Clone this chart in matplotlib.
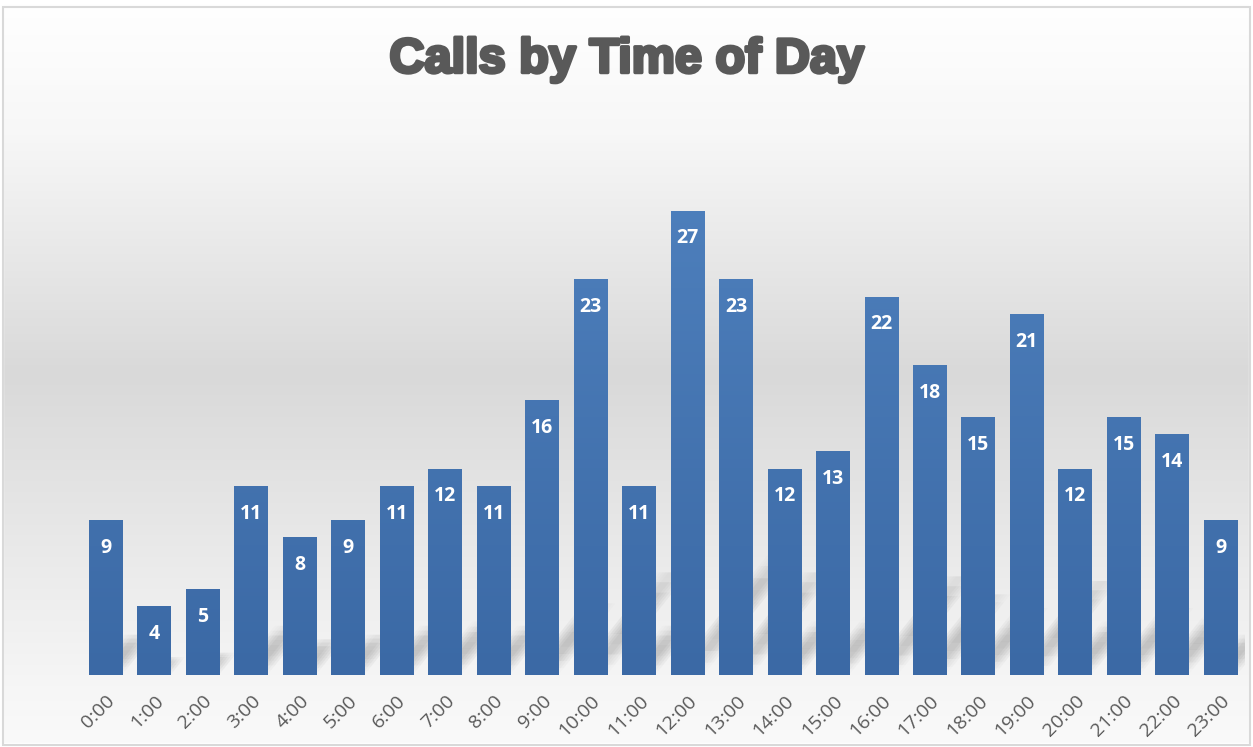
import numpy as np
import matplotlib
matplotlib.use("Agg")
import matplotlib.pyplot as plt
import matplotlib.patheffects as pe
from matplotlib.colors import LinearSegmentedColormap
from matplotlib.patches import Rectangle, Polygon

hours = ["%d:00" % h for h in range(24)]
calls = [9, 4, 5, 11, 8, 9, 11, 12, 11, 16, 23, 11, 27, 23, 12, 13, 22, 18, 15, 21, 12, 15, 14, 9]

fig = plt.figure(figsize=(12.53, 7.47), dpi=100)

# background gradient (whole chart)
bg = fig.add_axes([0, 0, 1, 1], zorder=0)
bg.set_axis_off()
bg_cmap = LinearSegmentedColormap.from_list(
    "bg", [(0.0, "#fafafa"), (0.08, "#f6f6f6"), (0.5, "#d9d9d9"), (0.82, "#f7f7f7"), (1.0, "#ffffff")])
grad = np.linspace(0, 1, 256).reshape(-1, 1)
bg.imshow(grad, aspect="auto", cmap=bg_cmap, extent=[0, 1, 0, 1], origin="lower")
bg.set_xlim(0, 1)
bg.set_ylim(0, 1)
# outer frame
bg.add_patch(Rectangle((0, 0), 1, 1, facecolor="none", edgecolor="white", lw=6))
bg.add_patch(Rectangle((3 / 1253, 0.003), 1 - 6 / 1253, 1 - 7 / 747 - 0.003,
                       facecolor="none", edgecolor="#d9d9d9", lw=1.5))

ax = fig.add_axes([81.75 / 1253, 1 - 675 / 747, (1245 - 81.75) / 1253, (675 - 159) / 747], zorder=1)
ax.patch.set_alpha(0)
x = np.arange(len(hours))
w = 0.7

# soft slanted shadows behind the bars (strongest mid-way, blurred by layering)
nstrip = 10
slope = 0.8 * 17.2 / 48.5  # a bit steeper than 45 degrees on screen
for xi, v in zip(x, calls):
    hs = 0.26 * v
    x0, x1 = xi - w * 0.3, xi + w * 0.3
    for jit in [-0.12, -0.06, 0.0, 0.06, 0.12]:
        for s in range(nstrip):
            ya, yb = hs * s / nstrip, hs * (s + 1) / nstrip
            t = (s + 0.5) / nstrip
            poly = Polygon([(x0 + jit + ya * slope, ya), (x1 + jit + ya * slope, ya),
                            (x1 + jit + yb * slope, yb), (x0 + jit + yb * slope, yb)],
                           closed=True, facecolor="#5f5f5f", edgecolor="none",
                           alpha=0.07 * np.sin(np.pi * t) ** 0.8, zorder=1)
            ax.add_patch(poly)

bars = ax.bar(x, calls, width=w, color="#4a7bb7", zorder=2)

bar_cmap = LinearSegmentedColormap.from_list("bar", ["#3b69a5", "#4f81be"])
for b in bars:
    bx = b.get_x()
    im = ax.imshow(grad, aspect="auto", cmap=bar_cmap, extent=[bx, bx + b.get_width(), 0, 30],
                   origin="lower", zorder=3)
    im.set_clip_path(b)

for xi, v in zip(x, calls):
    ax.annotate(str(v), (xi, v), xytext=(0, -20), textcoords="offset points",
                ha="center", va="center", color="white", fontsize=14,
                fontweight="bold", family="Open Sans", zorder=4)

ax.set_xlim(-0.5, len(hours) - 0.5)
ax.set_ylim(0, 30)
ax.set_xticks(x)
ax.set_xticklabels(hours, rotation=45, ha="right", rotation_mode="anchor",
                   fontsize=14, color="#595959", family="Open Sans")
ax.tick_params(axis="x", length=0, pad=12)
ax.set_yticks([])
for s in ax.spines.values():
    s.set_visible(False)

fig.text(0.5, 1 - 60 / 747, "Calls by Time of Day", ha="center", va="center",
         fontsize=35, fontweight="bold", color="#595959",
         family=["Liberation Sans", "DejaVu Sans"],
         path_effects=[pe.withStroke(linewidth=2.5, foreground="#595959")])

fig.savefig("out.png", dpi=100)
